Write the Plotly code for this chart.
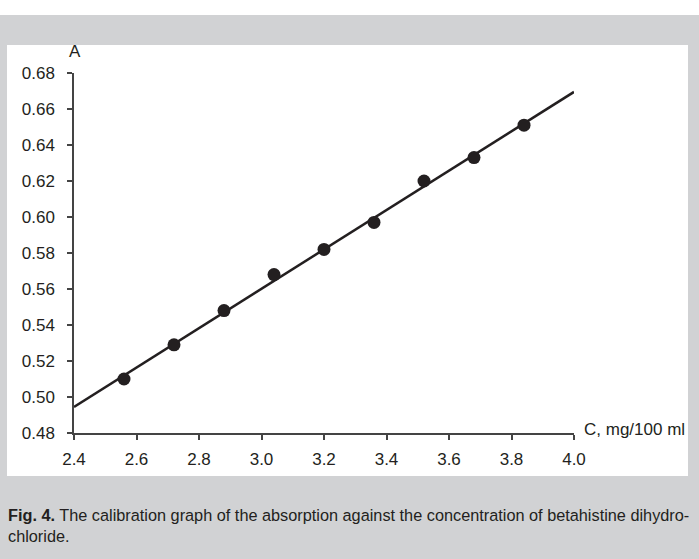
import plotly.graph_objects as go

# Data
conc = [2.56, 2.72, 2.88, 3.04, 3.20, 3.36, 3.52, 3.68, 3.84]
absorb = [0.510, 0.529, 0.548, 0.568, 0.582, 0.597, 0.620, 0.633, 0.651]
fit_x = [2.4, 4.0]
fit_y = [0.4945, 0.6695]
x_ticks = [2.4, 2.6, 2.8, 3.0, 3.2, 3.4, 3.6, 3.8, 4.0]
y_ticks = [0.48, 0.50, 0.52, 0.54, 0.56, 0.58, 0.60, 0.62, 0.64, 0.66, 0.68]

W, H = 699, 559
L, R, T, B = 74, 574, 73, 433
pw, ph = R - L, B - T

def px(p):
    return (p - L) / pw

def py(r):
    return (B - r) / ph

ink = "#231f20"
txt = "#231f20"
font = "Liberation Sans, Arial, sans-serif"

fig = go.Figure()
fig.add_trace(go.Scatter(x=fit_x, y=fit_y, mode="lines",
                         line=dict(color=ink, width=2.5), hoverinfo="skip"))
fig.add_trace(go.Scatter(x=conc, y=absorb, mode="markers",
                         marker=dict(color=ink, size=13)))

shapes = [
    dict(type="rect", xref="paper", yref="paper", x0=px(-5), x1=px(W + 5), y0=py(-5), y1=py(15),
         fillcolor="white", line=dict(width=0), layer="below"),
    dict(type="rect", xref="paper", yref="paper", x0=px(7), x1=px(688), y0=py(45), y1=py(476),
         fillcolor="white", line=dict(width=0), layer="below"),
]

annotations = [
    dict(text="A", xref="paper", yref="paper", x=px(75), y=py(52), xanchor="center", yanchor="middle",
         showarrow=False, font=dict(size=17, color=txt, family=font)),
    dict(text="C, mg/100 ml", xref="paper", yref="paper", x=px(582), y=py(429), xanchor="left", yanchor="middle",
         showarrow=False, font=dict(size=17, color=txt, family=font)),
    dict(text="<b>Fig. 4.</b> The calibration graph of the absorption against the concentration of betahistine dihydro-<br>chloride.",
         xref="paper", yref="paper", x=px(6), y=py(504), xanchor="left", yanchor="top", align="left",
         showarrow=False, font=dict(size=16.3, color=txt, family=font)),
]

fig.update_layout(
    width=W, height=H,
    margin=dict(l=L, r=W - R, t=T, b=H - B),
    paper_bgcolor="#d1d2d4",
    plot_bgcolor="rgba(0,0,0,0)",
    showlegend=False,
    shapes=shapes,
    annotations=annotations,
    font=dict(family=font, size=17, color=txt),
)
fig.update_xaxes(range=[2.4, 4.0], tickvals=x_ticks, ticktext=[f"{v:.1f}" for v in x_ticks],
                 showgrid=False, zeroline=False, showline=True, linecolor="#444", linewidth=1.5,
                 ticks="outside", ticklen=5, tickcolor="#444", tickwidth=1.5, mirror=False,
                 ticklabelstandoff=5, tickfont=dict(size=17, family=font, color=txt))
fig.update_yaxes(range=[0.48, 0.68], tickvals=y_ticks, ticktext=[f"{v:.2f}" for v in y_ticks],
                 showgrid=False, zeroline=False, showline=True, linecolor="#444", linewidth=1.5,
                 ticks="outside", ticklen=5, tickcolor="#444", tickwidth=1.5, mirror=False,
                 ticklabelstandoff=9, tickfont=dict(size=17, family=font, color=txt))

fig.write_html("out.html", config={"displayModeBar": False},
               post_script="document.body.style.margin='0';document.body.style.padding='0';")
